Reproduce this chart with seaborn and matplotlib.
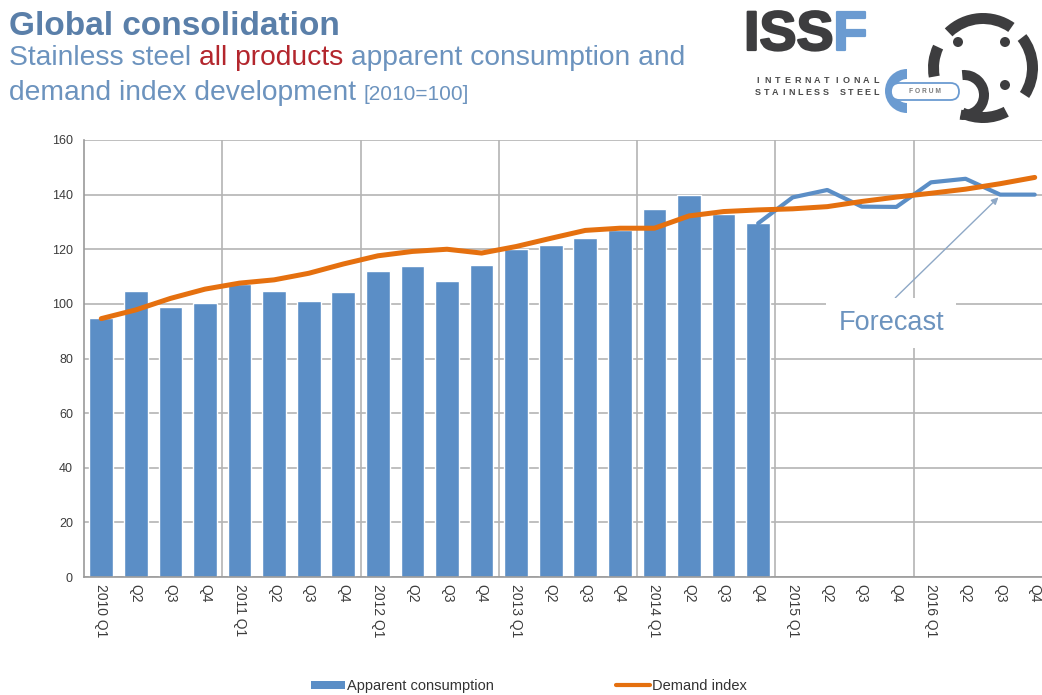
import numpy as np
import pandas as pd
import matplotlib
matplotlib.use("Agg")
import matplotlib.pyplot as plt
import matplotlib.patheffects as pe
import seaborn as sns
from matplotlib.patches import Patch, Wedge, Circle, FancyBboxPatch
from matplotlib.lines import Line2D

# ---- data -------------------------------------------------------------
periods = [
    "2010Q1", "2010Q2", "2010Q3", "2010Q4",
    "2011Q1", "2011Q2", "2011Q3", "2011Q4",
    "2012Q1", "2012Q2", "2012Q3", "2012Q4",
    "2013Q1", "2013Q2", "2013Q3", "2013Q4",
    "2014Q1", "2014Q2", "2014Q3", "2014Q4",
    "2015Q1", "2015Q2", "2015Q3", "2015Q4",
    "2016Q1", "2016Q2", "2016Q3", "2016Q4",
]
tick_labels = [
    "2010 Q1", "Q2", "Q3", "Q4",
    "2011 Q1", "Q2", "Q3", "Q4",
    "2012 Q1", "Q2", "Q3", "Q4",
    "2013 Q1", "Q2", "Q3", "Q4",
    "2014 Q1", "Q2", "Q3", "Q4",
    "2015 Q1", "Q2", "Q3", "Q4",
    "2016 Q1", "Q2", "Q3", "Q4",
]
# apparent consumption, 2010Q1 - 2014Q4
consumption = [95.0, 104.6, 98.8, 100.2, 107.2, 104.8, 101.2, 104.2,
               112.0, 114.0, 108.2, 114.3, 120.1, 121.6, 124.2, 127.0,
               134.8, 139.8, 133.0, 129.5]
# forecast of apparent consumption, 2014Q4 - 2016Q4
forecast_periods = ["2014Q4", "2015Q1", "2015Q2", "2015Q3", "2015Q4",
                    "2016Q1", "2016Q2", "2016Q3", "2016Q4"]
forecast = [129.5, 139.0, 141.7, 135.6, 135.5, 144.5, 145.8, 140.0, 140.0]
# demand index, 2010Q1 - 2016Q4
demand_index = [94.6, 97.8, 102.0, 105.4, 107.6, 108.8, 111.2, 114.6,
                117.6, 119.2, 120.0, 118.6, 121.0, 124.0, 126.9, 127.7,
                127.7, 132.2, 133.8, 134.4, 134.8, 135.6, 137.5, 139.1,
                140.5, 142.0, 144.0, 146.3]
y_ticks = [0, 20, 40, 60, 80, 100, 120, 140, 160]
year_bounds = [3.5, 7.5, 11.5, 15.5, 19.5, 23.5]

# ---- style ------------------------------------------------------------
BAR = "#5b8ec6"
ORANGE = "#e5700f"
GRID = "#b4b4b4"
TICK = "#3c3c3c"
TITLE = "#5a7fa9"
SUB = "#6c93be"
RED = "#b3262d"
LOGO_GREY = "#3d3d3f"
LOGO_BLUE = "#6b9bd1"

sns.set_theme(style="white")
plt.rcParams["font.family"] = ["Liberation Sans", "DejaVu Sans"]

W, H = 1042, 695
fig = plt.figure(figsize=(W / 100, H / 100), dpi=100)
fig.patch.set_facecolor("white")

ax = fig.add_axes([84 / W, 1 - 577 / H, (1052 - 84) / W, 437 / H])

bars = pd.DataFrame({"period": periods[:len(consumption)], "value": consumption})
sns.barplot(data=bars, x="period", y="value", order=periods, color=BAR,
            saturation=1, width=0.69, ax=ax, zorder=2)

pos = {p: i for i, p in enumerate(periods)}
fc = pd.DataFrame({"x": [pos[p] for p in forecast_periods], "y": forecast})
sns.lineplot(data=fc, x="x", y="y", color=BAR, lw=3.0, sort=False,
             estimator=None, ax=ax, zorder=3)
di = pd.DataFrame({"x": [pos[p] for p in periods], "y": demand_index})
sns.lineplot(data=di, x="x", y="y", color=ORANGE, lw=3.6, sort=False,
             estimator=None, ax=ax, zorder=4)

ax.set_xlim(-0.5, len(periods) - 0.5)
ax.set_ylim(0, 160)
ax.set_yticks(y_ticks)
ax.set_xticks(range(len(periods)))
ax.set_xticklabels(tick_labels, rotation=-90, fontsize=10, color=TICK)
ax.set_xticks(year_bounds, minor=True)
ax.tick_params(axis="y", labelsize=9, labelcolor=TICK, length=0, pad=8)
ax.tick_params(axis="x", which="both", length=0, pad=5)
ax.set_xlabel("")
ax.set_ylabel("")
ax.set_axisbelow(True)
ax.grid(axis="y", color=GRID, lw=1.2)
ax.grid(axis="x", which="minor", color=GRID, lw=1.2)
ax.grid(axis="x", which="major", visible=False)
for side in ("top", "right"):
    ax.spines[side].set_visible(False)
for side in ("left", "bottom"):
    ax.spines[side].set_color("#9a9a9a")
    ax.spines[side].set_linewidth(1.2)

ax.annotate("Forecast", xy=(25.95, 139.0), xytext=(22.85, 93.0),
            ha="center", va="center", fontsize=19.5, color=SUB,
            bbox=dict(boxstyle="square,pad=0.45", fc="white", ec="none"),
            arrowprops=dict(arrowstyle="-|>", color="#8ea8c6", lw=1.0,
                            mutation_scale=10, shrinkA=0, shrinkB=0,
                            relpos=(0.42, 1.0)),
            zorder=6)

handles = [Patch(facecolor=BAR, edgecolor="none"),
           Line2D([], [], color=ORANGE, lw=3)]
fig.legend(handles, ["Apparent consumption", "Demand index"], loc="center",
           bbox_to_anchor=(529 / W, 1 - 686 / H), ncol=2, frameon=False,
           fontsize=10.5, handlelength=2.3, handleheight=0.5,
           handletextpad=0.15, columnspacing=8.4, labelcolor="#333333")

# ---- header and logo (pixel coordinates) -------------------------------
ov = fig.add_axes([0, 0, 1, 1], zorder=10)
ov.set_xlim(0, W)
ov.set_ylim(H, 0)
ov.axis("off")
renderer = fig.canvas.get_renderer()


def text_width(s, **kw):
    t = ov.text(0, 0, s + "x", **kw)
    w1 = t.get_window_extent(renderer=renderer).width
    t.set_text("x")
    w2 = t.get_window_extent(renderer=renderer).width
    t.remove()
    return w1 - w2


def run(x, y, pieces):
    for s, kw in pieces:
        ov.text(x, y, s, ha="left", va="baseline", **kw)
        x += text_width(s, **kw)


def spaced(x0, x1, y, s, **kw):
    # evenly spread letters between two x positions
    for i, ch in enumerate(s):
        x = x0 + (x1 - x0) * i / (len(s) - 1)
        ov.text(x, y, ch, ha="center", va="baseline", **kw)


ov.text(9, 35, "Global consolidation", fontsize=24, fontweight="bold",
        color=TITLE, ha="left", va="baseline")
run(9, 65, [("Stainless steel ", dict(fontsize=20.3, color=SUB)),
            ("all products", dict(fontsize=20.3, color=RED)),
            (" apparent consumption and", dict(fontsize=20.3, color=SUB))])
run(9, 100, [("demand index development ", dict(fontsize=20.3, color=SUB)),
             ("[2010=100]", dict(fontsize=15, color=SUB))])

ov.text(744, 50, "ISS", fontsize=40, fontweight="bold", color=LOGO_GREY,
        ha="left", va="baseline",
        path_effects=[pe.withStroke(linewidth=1.6, foreground=LOGO_GREY)])
ov.text(744 + text_width("ISS", fontsize=40, fontweight="bold"), 50, "F",
        fontsize=40, fontweight="bold", color=LOGO_BLUE, ha="left",
        va="baseline",
        path_effects=[pe.withStroke(linewidth=1.6, foreground=LOGO_BLUE)])
spaced(758, 876, 83, "INTERNATIONAL", fontsize=6.5, fontweight="bold",
       color="#4a4a4a")
spaced(758, 876, 95, "STAINLESS STEEL", fontsize=6.5, fontweight="bold",
       color="#4a4a4a")


def arc(cx, cy, r, width, a1, a2, color):
    # angles given counter-clockwise as seen on screen
    ov.add_patch(Wedge((cx, cy), r, -a2, -a1, width=width, facecolor=color,
                       edgecolor="none"))


arc(907, 91, 22, 10, 90, 270, LOGO_BLUE)
ov.add_patch(FancyBboxPatch((891, 83), 68, 17,
                            boxstyle="round,pad=0,rounding_size=8.5",
                            facecolor="white", edgecolor=LOGO_BLUE, lw=1.3))
ov.text(925, 91.5, " ".join("FORUM"), fontsize=4.8, fontweight="bold",
        color="#7a7a7a", ha="center", va="center")
for a1, a2 in [(55, 134), (155, 190), (-33, 38), (-115, -62)]:
    arc(983, 68, 55, 11, a1, a2, LOGO_GREY)
arc(964, 95, 25, 10, -100, 95, LOGO_GREY)
for cx, cy in [(958, 42), (1005, 42), (1005, 85)]:
    ov.add_patch(Circle((cx, cy), 5, facecolor=LOGO_GREY, edgecolor="none"))

fig.savefig("out.png", dpi=100, facecolor="white")
